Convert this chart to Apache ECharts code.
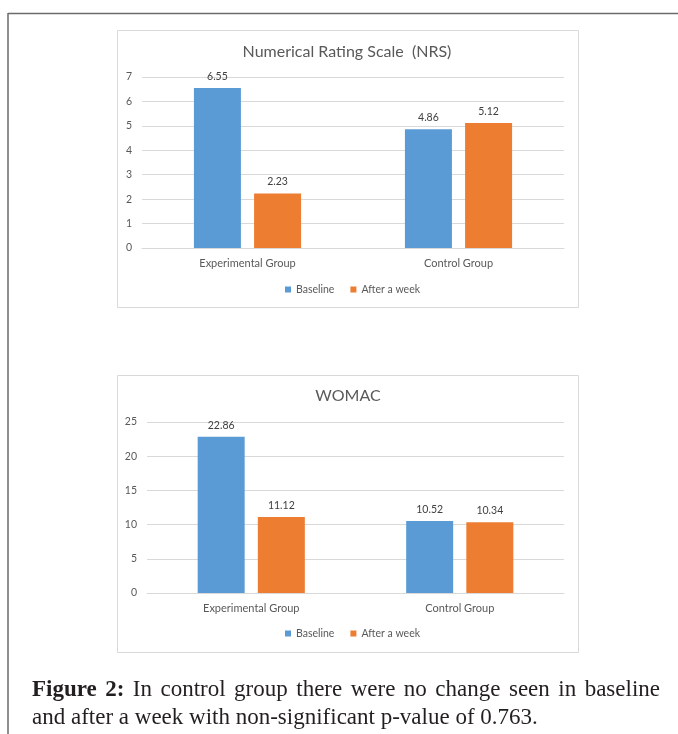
<!DOCTYPE html>
<html>
<head>
<meta charset="utf-8">
<script src="https://cdn.jsdelivr.net/npm/echarts@6/dist/echarts.min.js"></script>
<style>html,body{margin:0;padding:0;background:#fff}#c{width:678px;height:734px}</style>
</head>
<body>
<div id="c"></div>
<script>
const categories = ['Experimental Group', 'Control Group'];
const seriesNames = ['Baseline', 'After a week'];
const nrsBaseline = [6.55, 4.86];
const nrsAfter = [2.23, 5.12];
const womacBaseline = [22.86, 10.52];
const womacAfter = [11.12, 10.34];
const nrsAxis = { min: 0, max: 7, interval: 1 };
const womacAxis = { min: 0, max: 25, interval: 5 };
const titles = ['Numerical Rating Scale  (NRS)', 'WOMAC'];
const captionLine1 = ['Figure 2:', 'In control group there were no change seen in baseline'];
const captionLine2 = 'and after a week with non-significant p-value of 0.763.';

const BLUE = '#5B9BD5', ORANGE = '#ED7D31';
const SANS = 'Lato';
const SERIF = '"Liberation Serif"';
const capSize = 23;

const chart = echarts.init(document.getElementById('c'), null, { renderer: 'canvas' });

function yAxis(idx, ax) {
  return {
    type: 'value', gridIndex: idx, min: ax.min, max: ax.max, interval: ax.interval,
    axisLine: { show: false }, axisTick: { show: false },
    axisLabel: { color: '#595959', fontSize: 10.5, fontFamily: SANS, margin: 10 },
    splitLine: { lineStyle: { color: '#d9d9d9', width: 1 } }
  };
}
function xAxis(idx) {
  return {
    type: 'category', gridIndex: idx, data: categories,
    axisLine: { lineStyle: { color: '#d9d9d9' } }, axisTick: { show: false },
    axisLabel: { color: '#595959', fontSize: 11, fontFamily: SANS, margin: 10 }
  };
}
function bar(name, data, idx, color) {
  return {
    name: name, type: 'bar', xAxisIndex: idx, yAxisIndex: idx, data: data,
    barWidth: 47, barGap: '28%',
    itemStyle: { color: color },
    label: { show: true, position: 'top', distance: 6, color: '#404040', fontSize: 10.5, fontFamily: SANS },
    emphasis: { disabled: true }
  };
}

// caption layout (justified first line)
const cv = document.createElement('canvas').getContext('2d');
function w(text, bold) { cv.font = (bold ? 'bold ' : '') + capSize + 'px ' + SERIF; return cv.measureText(text).width; }
const words1 = [];
captionLine1[0].split(' ').forEach(t => words1.push({ t: t, b: true }));
captionLine1[1].split(' ').forEach(t => words1.push({ t: t, b: false }));
const capLeft = 32, capRight = 660;
const sumW = words1.reduce((s, o) => s + w(o.t, o.b), 0);
const gap = (capRight - capLeft - sumW) / (words1.length - 1);
const capGraphics = [];
let cx = capLeft;
words1.forEach(o => {
  capGraphics.push({ type: 'text', x: cx, y: 690, style: { text: o.t, fill: '#231f20', font: (o.b ? 'bold ' : '') + capSize + 'px ' + SERIF, verticalAlign: 'middle' } });
  cx += w(o.t, o.b) + gap;
});
capGraphics.push({ type: 'text', x: capLeft, y: 718, style: { text: captionLine2, fill: '#231f20', font: capSize + 'px ' + SERIF, verticalAlign: 'middle' } });

const legendCommon = { data: seriesNames, left: 285, padding: 0, icon: 'rect', itemWidth: 6, itemHeight: 6, itemGap: 16, textStyle: { color: '#595959', fontSize: 10.5, fontFamily: SANS } };

chart.setOption({
  animation: false,
  title: [
    { text: titles[0], left: 347, top: 44, padding: 0, textAlign: 'center', textStyle: { color: '#595959', fontSize: 16, fontWeight: 'normal', fontFamily: SANS } },
    { text: titles[1], left: 348, top: 388, padding: 0, textAlign: 'center', textStyle: { color: '#595959', fontSize: 16, fontWeight: 'normal', fontFamily: SANS } }
  ],
  legend: [
    Object.assign({}, legendCommon, { top: 284 }),
    Object.assign({}, legendCommon, { top: 628 })
  ],
  grid: [
    { left: 142, width: 422, top: 77, height: 171 },
    { left: 147, width: 417, top: 422, height: 171 }
  ],
  xAxis: [xAxis(0), xAxis(1)],
  yAxis: [yAxis(0, nrsAxis), yAxis(1, womacAxis)],
  series: [
    bar(seriesNames[0], nrsBaseline, 0, BLUE),
    bar(seriesNames[1], nrsAfter, 0, ORANGE),
    bar(seriesNames[0], womacBaseline, 1, BLUE),
    bar(seriesNames[1], womacAfter, 1, ORANGE)
  ],
  graphic: [
    { type: 'line', shape: { x1: 8, y1: 13.5, x2: 678, y2: 13.5 }, style: { stroke: '#6b6b6b', lineWidth: 1.5 } },
    { type: 'line', shape: { x1: 8, y1: 13, x2: 8, y2: 734 }, style: { stroke: '#6b6b6b', lineWidth: 1.5 } },
    { type: 'rect', shape: { x: 117.5, y: 30.5, width: 461, height: 277 }, style: { fill: 'none', stroke: '#d9d9d9', lineWidth: 1 }, z: -1 },
    { type: 'rect', shape: { x: 117.5, y: 375.5, width: 461, height: 277 }, style: { fill: 'none', stroke: '#d9d9d9', lineWidth: 1 }, z: -1 }
  ].concat(capGraphics)
});
</script>
</body>
</html>
